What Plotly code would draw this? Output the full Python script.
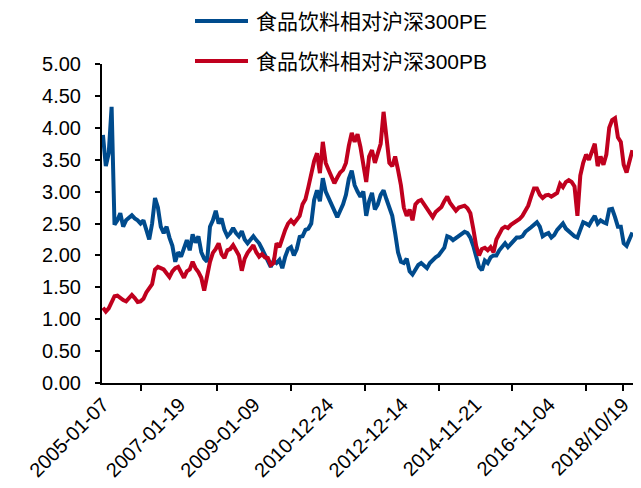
import pandas as pd
import plotly.graph_objects as go

# Four-weekly observation dates (Fridays), Jan 2005 – Jan 2019
dates = pd.date_range("2005-01-07", periods=184, freq="28D")

# 食品饮料相对沪深300 PE
pe_rel = [
    3.89, 3.40, 3.60, 4.33, 2.48, 2.55, 2.66, 2.45, 2.55, 2.60,
    2.63, 2.58, 2.55, 2.50, 2.55, 2.40, 2.25, 2.50, 2.90, 2.75,
    2.45, 2.35, 2.45, 2.28, 2.15, 1.90, 2.05, 1.98, 2.10, 2.24,
    2.08, 2.33, 2.20, 2.30, 2.05, 1.95, 1.90, 2.45, 2.55, 2.70,
    2.50, 2.58, 2.40, 2.30, 2.35, 2.43, 2.35, 2.30, 2.38, 2.25,
    2.19, 2.25, 2.30, 2.24, 2.19, 2.10, 2.00, 1.90, 1.82, 1.92,
    1.88, 1.93, 1.80, 1.98, 2.10, 2.13, 2.00, 2.10, 2.29, 2.30,
    2.40, 2.42, 2.50, 2.87, 3.02, 2.85, 3.21, 3.00, 2.90, 2.80,
    2.68, 2.60, 2.70, 2.80, 2.95, 3.20, 3.33, 3.10, 3.00, 2.92,
    3.00, 2.62, 2.85, 2.98, 2.72, 2.80, 2.95, 3.02, 2.88, 2.75,
    2.62, 2.35, 2.05, 1.90, 1.88, 1.95, 1.75, 1.70, 1.78, 1.85,
    1.88, 1.84, 1.80, 1.88, 1.93, 1.97, 2.00, 2.05, 2.12, 2.30,
    2.28, 2.24, 2.27, 2.30, 2.33, 2.37, 2.35, 2.28, 2.15, 2.00,
    1.82, 1.77, 1.92, 1.88, 1.97, 2.00, 2.00, 2.08, 2.13, 2.19,
    2.13, 2.18, 2.22, 2.28, 2.28, 2.30, 2.37, 2.40, 2.44, 2.48,
    2.52, 2.45, 2.30, 2.33, 2.35, 2.28, 2.32, 2.40, 2.45, 2.50,
    2.42, 2.37, 2.34, 2.30, 2.28, 2.40, 2.52, 2.50, 2.47, 2.55,
    2.62, 2.50, 2.55, 2.52, 2.50, 2.72, 2.73, 2.60, 2.45, 2.45,
    2.19, 2.15, 2.26, 2.36,
]

# 食品饮料相对沪深300 PB
pb_rel = [
    1.18, 1.12, 1.17, 1.26, 1.36, 1.37, 1.33, 1.30, 1.28, 1.32,
    1.38, 1.33, 1.27, 1.28, 1.32, 1.42, 1.48, 1.55, 1.78, 1.82,
    1.80, 1.78, 1.72, 1.66, 1.75, 1.80, 1.82, 1.72, 1.65, 1.75,
    1.78, 1.90, 1.80, 1.74, 1.65, 1.45, 1.70, 1.90, 2.04, 2.10,
    2.19, 2.02, 1.96, 2.08, 2.10, 2.16, 2.08, 2.00, 1.76, 1.95,
    2.04, 2.10, 2.16, 2.05, 1.98, 2.02, 1.97, 1.96, 1.85, 1.88,
    2.19, 2.13, 2.29, 2.40, 2.50, 2.55, 2.50, 2.55, 2.62, 2.80,
    2.88, 3.07, 3.30, 3.48, 3.60, 3.29, 3.78, 3.45, 3.34, 3.23,
    3.13, 3.22, 3.30, 3.34, 3.45, 3.72, 3.92, 3.78, 3.90, 3.70,
    3.45, 3.15, 3.55, 3.65, 3.45, 3.62, 3.75, 4.25, 3.80, 3.45,
    3.40, 3.55, 3.34, 3.10, 2.75, 2.62, 2.72, 2.55, 2.80, 2.85,
    2.87, 2.80, 2.75, 2.68, 2.60, 2.68, 2.72, 2.76, 2.85, 2.92,
    2.82, 2.75, 2.70, 2.75, 2.77, 2.78, 2.74, 2.66, 2.42, 2.15,
    2.00, 2.10, 2.12, 2.08, 2.13, 2.05, 2.25, 2.35, 2.42, 2.45,
    2.43, 2.48, 2.51, 2.54, 2.57, 2.62, 2.70, 2.78, 2.92, 3.05,
    3.05, 2.95, 2.90, 2.94, 2.95, 2.92, 2.95, 2.98, 3.12, 3.07,
    3.15, 3.18, 3.15, 3.08, 2.62, 3.25, 3.45, 3.58, 3.50, 3.65,
    3.75, 3.40, 3.55, 3.42, 3.58, 4.00, 4.12, 4.15, 3.85, 3.78,
    3.42, 3.30, 3.47, 3.65,
]

series_names = ["食品饮料相对沪深300PE", "食品饮料相对沪深300PB"]
tick_dates = ["2005-01-07", "2007-01-19", "2009-01-09", "2010-12-24",
              "2012-12-14", "2014-11-21", "2016-11-04", "2018-10-19"]
tick_text = ["2005-01-07", "2007-01-19", "2009-01-09", "2010-12-24",
             "2012-12-14", "2014-11-21", "2016-11-04", "2018/10/19"]
y_ticks = [0, 0.5, 1, 1.5, 2, 2.5, 3, 3.5, 4, 4.5, 5]

BLUE = "#004B8D"
RED = "#C0001E"
FONT = "Liberation Sans, Arial, Noto Sans CJK SC, sans-serif"

# tick marks sit between the labelled dates, plus one at the last label
td = pd.to_datetime(tick_dates)
mark_dates = [td[i] + (td[i + 1] - td[i]) / 2 for i in range(len(td) - 1)] + [td[-1]]

fig = go.Figure()
fig.add_trace(go.Scatter(x=dates, y=pe_rel, mode="lines", name=series_names[0],
                         line=dict(color=BLUE, width=4), showlegend=False))
fig.add_trace(go.Scatter(x=dates, y=pb_rel, mode="lines", name=series_names[1],
                         line=dict(color=RED, width=4), showlegend=False))

# legend drawn as line swatches + labels above the plot
W, H = 641, 488
L, R, T, B = 102, 8, 64, 105
pw, ph = W - L - R, H - T - B


def px_x(p):
    return (p - L) / pw


def px_y(p):
    return (H - B - p) / ph


for name, color, py in [(series_names[0], BLUE, 21), (series_names[1], RED, 61)]:
    fig.add_shape(type="line", xref="paper", yref="paper",
                  x0=px_x(195), x1=px_x(248), y0=px_y(py), y1=px_y(py),
                  line=dict(color=color, width=4))
    fig.add_annotation(xref="paper", yref="paper", x=px_x(254), y=px_y(py),
                       text=name, showarrow=False, xanchor="left", yanchor="middle",
                       font=dict(family=FONT, size=21, color="#000000"))

fig.update_layout(
    width=W, height=H,
    margin=dict(l=L, r=R, t=T, b=B),
    paper_bgcolor="white", plot_bgcolor="white",
    font=dict(family=FONT, size=20, color="#000000"),
)
fig.update_xaxes(
    type="date", range=["2004-12-29", "2019-01-24"],
    tickmode="array", tickvals=tick_dates, ticktext=tick_text,
    tickangle=-45, ticks="", showgrid=False, zeroline=False,
    showline=True, linecolor="#000000", linewidth=2,
    tickfont=dict(family=FONT, size=20, color="#000000"),
    minor=dict(tickmode="array", tickvals=mark_dates, ticks="outside",
               ticklen=6, tickwidth=2, tickcolor="#000000", showgrid=False),
)
fig.update_yaxes(
    range=[0, 5], tickmode="array", tickvals=y_ticks, tickformat=".2f",
    ticks="outside", ticklen=5, tickwidth=2, tickcolor="#000000",
    ticklabelstandoff=10,
    showgrid=False, zeroline=False,
    showline=True, linecolor="#000000", linewidth=2,
    tickfont=dict(family=FONT, size=20, color="#000000"),
)

fig.write_html("out.html")
